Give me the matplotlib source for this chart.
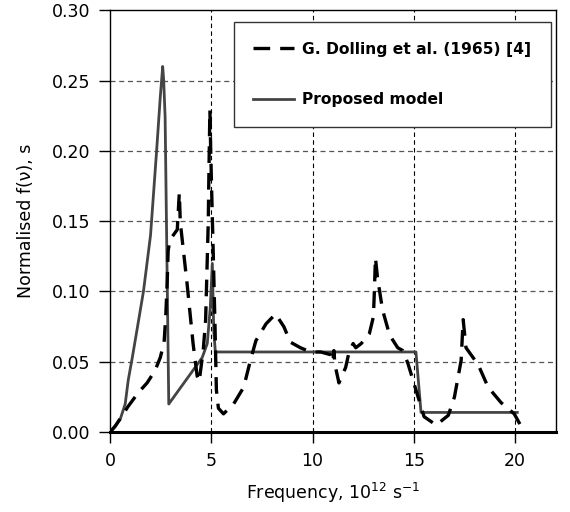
import matplotlib
matplotlib.use("Agg")
import matplotlib.pyplot as plt

plt.rcParams["font.family"] = ["DejaVu Sans"]

# Dolling et al. (1965) measured spectrum
dolling_x = [0.0, 0.25, 0.88, 1.39, 1.83, 2.23, 2.48, 2.67, 2.75, 2.82, 2.87, 2.95, 3.07,
             3.32, 3.42, 3.47, 3.8, 4.1, 4.3, 4.4, 4.6, 4.72, 4.85, 4.88, 4.93, 4.97,
             5.02, 5.1, 5.18, 5.25, 5.35, 5.6, 6.1, 6.6, 6.93, 7.2, 7.7, 8.17, 8.58,
             8.9, 9.4, 9.9, 10.4, 10.9, 11.0, 11.05, 11.1, 11.3, 11.45, 11.63, 11.8,
             12.0, 12.13, 12.4, 12.8, 13.0, 13.05, 13.1, 13.2, 13.45, 13.8, 14.2,
             14.45, 14.7, 15.1, 15.5, 16.1, 16.7, 17.0, 17.33, 17.43, 17.57, 18.17,
             18.66, 19.3, 19.95, 20.45]
dolling_y = [0.0, 0.004, 0.018, 0.028, 0.035, 0.044, 0.053, 0.064, 0.082, 0.106, 0.129,
             0.136, 0.139, 0.144, 0.170, 0.149, 0.106, 0.063, 0.040, 0.036, 0.058,
             0.080, 0.150, 0.183, 0.229, 0.200, 0.170, 0.124, 0.077, 0.030, 0.017,
             0.013, 0.020, 0.032, 0.051, 0.065, 0.077, 0.084, 0.075, 0.064, 0.060,
             0.057, 0.057, 0.055, 0.050, 0.058, 0.048, 0.035, 0.040, 0.046, 0.057,
             0.063, 0.060, 0.063, 0.070, 0.082, 0.101, 0.124, 0.110, 0.087, 0.069,
             0.060, 0.058, 0.049, 0.030, 0.011, 0.005, 0.012, 0.025, 0.051, 0.080,
             0.060, 0.048, 0.032, 0.021, 0.013, 0.0]

# proposed model
model_x = [0.0, 0.5, 0.75, 0.9, 1.1, 1.3, 1.65, 2.0, 2.3, 2.48, 2.6, 2.65, 2.72, 2.9,
           4.55, 4.8, 4.95, 5.05, 5.12, 5.2, 15.1, 15.35, 20.1]
model_y = [0.0, 0.009, 0.020, 0.037, 0.053, 0.070, 0.100, 0.140, 0.200, 0.238, 0.260,
           0.250, 0.224, 0.020, 0.053, 0.063, 0.089, 0.120, 0.072, 0.057, 0.057,
           0.014, 0.014]

x_ticks = [0, 5, 10, 15, 20]
y_ticks = [0.00, 0.05, 0.10, 0.15, 0.20, 0.25, 0.30]

fig = plt.figure(figsize=(5.7, 5.12), dpi=100)
ax = fig.add_axes([0.193, 0.156, 0.782, 0.824])

ax.plot(model_x, model_y, color="#444444", lw=2.0, label="Proposed model", zorder=3)
ax.plot(dolling_x, dolling_y, color="black", lw=2.4, dashes=(5, 3),
        label="G. Dolling et al. (1965) [4]", zorder=4)

ax.set_xlim(0, 22)
ax.set_ylim(0, 0.30)
ax.set_xticks(x_ticks)
ax.set_yticks(y_ticks)
ax.set_yticklabels([f"{v:.2f}" for v in y_ticks])

for v in y_ticks[1:-1]:
    ax.axhline(v, color="#555555", lw=0.9, dashes=(4, 3), zorder=1)
for v in x_ticks[1:]:
    ax.axvline(v, color="black", lw=0.8, dashes=(4, 3), zorder=1)

ax.tick_params(direction="out", length=8, width=1, labelsize=12.5, pad=6)
ax.spines["bottom"].set_linewidth(2.2)
for s in ("left", "top", "right"):
    ax.spines[s].set_linewidth(1.0)

ax.set_xlabel("Frequency, 10$^{12}$ s$^{-1}$", fontsize=12.5, labelpad=8)
ax.set_ylabel("Normalised f(\u03bd), s", fontsize=12.5, labelpad=12)

handles, labels = ax.get_legend_handles_labels()
leg = ax.legend(handles[::-1], labels[::-1], loc="upper right",
                bbox_to_anchor=(0.989, 0.9716), borderaxespad=0.0,
                frameon=True, fancybox=False,
                edgecolor="#333333", framealpha=1.0, handlelength=2.6,
                labelspacing=2.3, borderpad=1.25, handletextpad=0.55,
                prop={"weight": "bold", "size": 11.2})
leg.get_frame().set_linewidth(1.0)

fig.savefig("out.png", dpi=100)
